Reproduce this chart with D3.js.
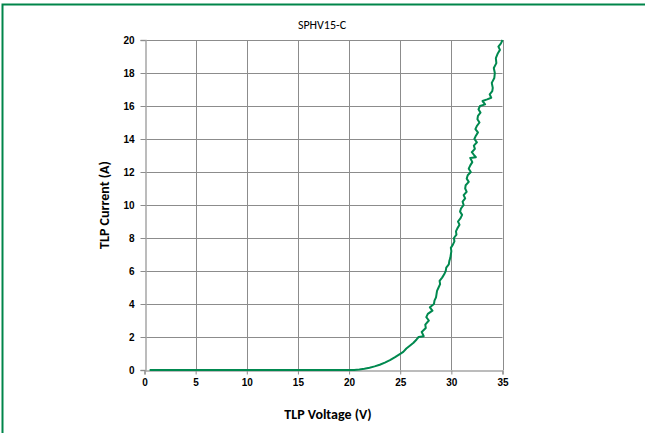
<!DOCTYPE html>
<html>
<head>
<meta charset="utf-8">
<script src="https://cdn.jsdelivr.net/npm/d3@7"></script>
<style>
  body { margin: 0; background: #fff; }
  svg { display: block; font-family: Carlito, "Liberation Sans", Arial, sans-serif; }
</style>
</head>
<body>
<svg id="chart" width="645" height="433"></svg>
<script>
// TLP I-V curve
const voltage = [
  0.5, 5, 10, 15, 20, 20.5, 21, 21.5, 22, 22.5, 23, 23.5, 24, 24.5, 25, 25.3, 25.6, 26, 26.3, 26.6, 26.8,
  27.3, 27.1, 27.5, 27.45, 27.8, 27.55, 27.7, 28.15, 27.9, 28.3, 28.35, 28.5, 28.55, 28.6, 28.75,
  28.9, 28.85, 29.1, 29.3, 29.45, 29.5, 29.75, 29.8, 29.9, 29.95, 30.0, 29.95, 30.15, 30.3,
  30.25, 30.5, 30.45, 30.6, 30.8, 30.65, 30.9, 31.05, 30.85, 30.95, 31.2, 31.1, 31.35, 31.2, 31.5,
  31.35, 31.4, 31.7, 31.5, 31.6, 31.9, 31.7, 31.85, 32.05, 31.85, 32.4, 32.25, 32.0, 32.3, 32.2,
  32.5, 32.25, 32.4, 32.6, 32.35, 32.5, 32.75, 32.55, 32.6, 32.85, 32.65, 32.8, 33.3, 33.05, 33.5,
  33.9, 33.75, 34.0, 34.05, 33.95, 34.2, 34.25, 34.15, 34.4, 34.35, 34.55, 34.75, 34.6, 34.85, 35.0
];
const current = [
  0, 0, 0, 0, 0, 0, 0.03, 0.08, 0.14, 0.22, 0.32, 0.45, 0.6, 0.78, 0.98, 1.1, 1.3, 1.5, 1.65, 1.85, 2.0,
  2.05, 2.3, 2.55, 2.75, 3.0, 3.2, 3.4, 3.6, 3.8, 4.0, 4.2, 4.4, 4.6, 4.8, 5.0,
  5.2, 5.4, 5.6, 5.8, 6.0, 6.2, 6.4, 6.6, 6.8, 7.0, 7.2, 7.4, 7.6, 7.8,
  8.0, 8.2, 8.4, 8.6, 8.8, 9.0, 9.2, 9.4, 9.6, 9.8, 10.0, 10.2, 10.4, 10.6, 10.8,
  11.0, 11.2, 11.4, 11.6, 11.8, 12.0, 12.2, 12.4, 12.6, 12.85, 12.9, 13.0, 13.2, 13.4, 13.6,
  13.8, 14.0, 14.2, 14.4, 14.6, 14.8, 15.0, 15.2, 15.4, 15.6, 15.8, 16.0, 16.1, 16.3, 16.4,
  16.5, 16.7, 16.9, 17.1, 17.4, 17.7, 18.0, 18.3, 18.6, 18.9, 19.2, 19.4, 19.6, 19.8, 20.0
];
const xTicks = [0, 5, 10, 15, 20, 25, 30, 35];
const yTicks = [0, 2, 4, 6, 8, 10, 12, 14, 16, 18, 20];
const chartTitle = 'SPHV15-C';
const xTitle = 'TLP Voltage (V)';
const yTitle = 'TLP Current (A)';

const svg = d3.select('#chart');
const margin = { left: 144.5, right: 142.5, top: 40, bottom: 63 };
const W = 645, H = 433;

const x = d3.scaleLinear().domain([0, 35]).range([margin.left, W - margin.right]);
const y = d3.scaleLinear().domain([0, 20]).range([H - margin.bottom, margin.top]);

// outer frame (only top and left edges fall inside the picture)
svg.append('rect')
  .attr('x', 2.5).attr('y', 4.5)
  .attr('width', 660).attr('height', 460)
  .attr('fill', 'none')
  .attr('stroke', '#00854a')
  .attr('stroke-width', 2);

// gridlines
const grid = svg.append('g').attr('stroke', '#8c8c8c').attr('stroke-width', 1);
grid.selectAll('.gx').data(xTicks.slice(1)).join('line')
  .attr('x1', d => Math.round(x(d)) + 0.5).attr('x2', d => Math.round(x(d)) + 0.5)
  .attr('y1', y(0)).attr('y2', y(20));
grid.selectAll('.gy').data(yTicks.slice(1)).join('line')
  .attr('x1', x(0)).attr('x2', x(35))
  .attr('y1', d => Math.round(y(d)) + 0.5).attr('y2', d => Math.round(y(d)) + 0.5);

// axes
const xAxis = svg.append('g')
  .attr('transform', `translate(0,${Math.round(y(0)) + 0.5})`)
  .call(d3.axisBottom(x).tickValues(xTicks).tickSize(4).tickPadding(4));
const yAxis = svg.append('g')
  .attr('transform', `translate(${Math.round(x(0)) + 0.5},0)`)
  .call(d3.axisLeft(y).tickValues(yTicks).tickSize(5).tickPadding(6));

[xAxis, yAxis].forEach(a => {
  a.select('.domain').attr('stroke', '#a6a6a6').attr('stroke-width', 1.5);
  a.selectAll('.tick line').attr('stroke', '#8c8c8c');
  a.selectAll('.tick text')
    .attr('fill', '#000')
    .style('font-size', '10px')
    .style('font-weight', 'bold');
});

// curve
const pts = voltage.map((v, i) => [v, current[i]]);
const line = d3.line().x(d => x(d[0])).y(d => y(d[1]));
svg.append('path')
  .datum(pts)
  .attr('d', line)
  .attr('fill', 'none')
  .attr('stroke', '#00894f')
  .attr('stroke-width', 2)
  .attr('stroke-linejoin', 'round');

// titles
svg.append('text')
  .attr('x', 322).attr('y', 29)
  .attr('text-anchor', 'middle')
  .style('font-size', '12px')
  .text(chartTitle);

svg.append('text')
  .attr('x', 328).attr('y', 419)
  .attr('text-anchor', 'middle')
  .style('font-size', '14px')
  .style('font-weight', 'bold')
  .text(xTitle);

svg.append('text')
  .attr('transform', `translate(109,${(y(0) + y(20)) / 2}) rotate(-90)`)
  .attr('text-anchor', 'middle')
  .style('font-size', '14px')
  .style('font-weight', 'bold')
  .text(yTitle);
</script>
</body>
</html>
